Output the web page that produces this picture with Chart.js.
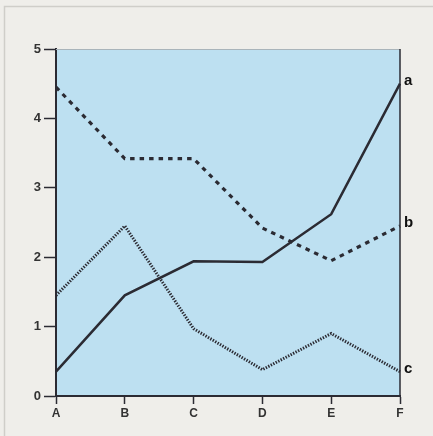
<!DOCTYPE html>
<html>
<head>
<meta charset="utf-8">
<script src="https://cdn.jsdelivr.net/npm/chart.js@4.4.1/dist/chart.umd.min.js"></script>
<style>
  html, body { margin: 0; padding: 0; background: #efeeea; }
  #wrap { width: 433px; height: 436px; position: relative; }
</style>
</head>
<body>
<div id="wrap"><canvas id="chart" width="433" height="436"></canvas></div>
<script>
// categories and series
const categories = ['A', 'B', 'C', 'D', 'E', 'F'];
const seriesA = [0.35, 1.45, 1.94, 1.93, 2.62, 4.5];
const seriesB = [4.45, 3.42, 3.42, 2.42, 1.95, 2.45];
const seriesC = [1.45, 2.45, 0.97, 0.38, 0.9, 0.35];
const seriesNames = ['a', 'b', 'c'];
const yTicks = [0, 1, 2, 3, 4, 5];

const ink = '#2b2b33';

// page frame, plot background and right/top edges
const framePlugin = {
    id: 'frame',
    beforeDraw(chart) {
        const ctx = chart.ctx;
        const a = chart.chartArea;
        ctx.save();
        ctx.fillStyle = '#efeeea';
        ctx.fillRect(0, 0, chart.width, chart.height);
        ctx.strokeStyle = '#cfcec9';
        ctx.lineWidth = 1.5;
        ctx.beginPath();
        ctx.moveTo(4.5, chart.height);
        ctx.lineTo(4.5, 6.5);
        ctx.lineTo(chart.width, 6.5);
        ctx.stroke();
        ctx.fillStyle = '#bde0f1';
        ctx.fillRect(a.left, a.top, a.right - a.left, a.bottom - a.top);
        ctx.restore();
    },
    afterDatasetsDraw(chart) {
        const ctx = chart.ctx;
        const a = chart.chartArea;
        ctx.save();
        ctx.strokeStyle = '#a9b4ba';
        ctx.lineWidth = 1;
        ctx.beginPath();
        ctx.moveTo(a.left, a.top + 0.5);
        ctx.lineTo(a.right, a.top + 0.5);
        ctx.stroke();
        ctx.strokeStyle = ink;
        ctx.lineWidth = 1.5;
        ctx.beginPath();
        ctx.moveTo(a.right, a.top);
        ctx.lineTo(a.right, a.bottom);
        ctx.stroke();
        // series names beside the last point
        ctx.fillStyle = '#111';
        ctx.font = 'bold 15px "Liberation Sans", Arial, sans-serif';
        ctx.textBaseline = 'middle';
        ctx.textAlign = 'left';
        chart.data.datasets.forEach((ds, i) => {
            const pts = chart.getDatasetMeta(i).data;
            const last = pts[pts.length - 1];
            ctx.fillText(seriesNames[i], last.x + 4, last.y - 3);
        });
        ctx.restore();
    }
};

new Chart(document.getElementById('chart'), {
    type: 'line',
    data: {
        labels: categories,
        datasets: [
            { label: 'a', data: seriesA, borderColor: ink, borderWidth: 2.5 },
            { label: 'b', data: seriesB, borderColor: ink, borderWidth: 3.2, borderDash: [4.5, 5] },
            { label: 'c', data: seriesC, borderColor: ink, borderWidth: 3, borderDash: [1.4, 1.4] }
        ]
    },
    options: {
        responsive: false,
        animation: false,
        layout: { padding: { top: 49, right: 33, left: 0, bottom: 0 } },
        elements: {
            point: { radius: 0 },
            line: { tension: 0, borderJoinStyle: 'miter', borderCapStyle: 'butt' }
        },
        plugins: { legend: { display: false }, tooltip: { enabled: false } },
        scales: {
            x: {
                offset: false,
                grid: { drawOnChartArea: false, tickLength: 8, tickColor: ink, tickWidth: 1.5 },
                border: { color: ink, width: 2 },
                ticks: {
                    color: '#333',
                    padding: 2,
                    maxRotation: 0,
                    font: { family: '"Liberation Sans", Arial, sans-serif', size: 12, weight: 'bold' }
                },
                afterFit(scale) { scale.height = 40; }
            },
            y: {
                min: 0,
                max: 5,
                afterBuildTicks(scale) { scale.ticks = yTicks.map(v => ({ value: v })); },
                grid: { drawOnChartArea: false, tickLength: 12, tickColor: ink, tickWidth: 1.5 },
                border: { color: ink, width: 2 },
                ticks: {
                    color: '#333',
                    padding: 3,
                    font: { family: '"Liberation Sans", Arial, sans-serif', size: 13, weight: 'bold' }
                },
                afterFit(scale) { scale.width = 56; }
            }
        }
    },
    plugins: [framePlugin]
});
</script>
</body>
</html>
